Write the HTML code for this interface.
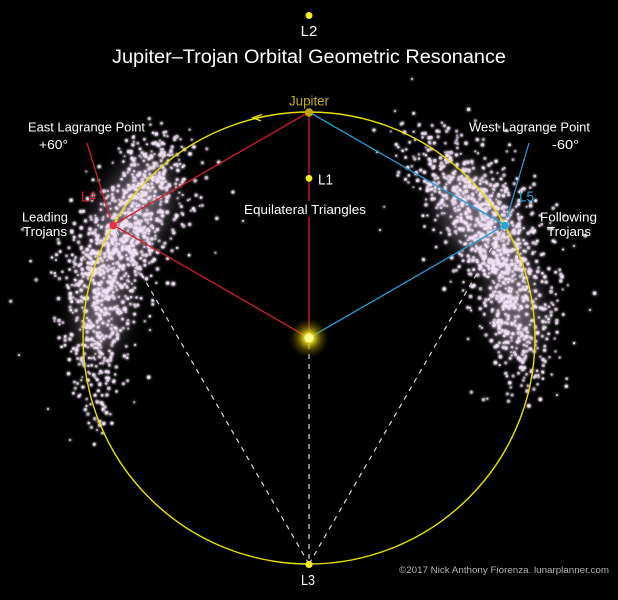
<!DOCTYPE html>
<html><head><meta charset="utf-8"><style>
html,body{margin:0;padding:0;background:#000;}
svg{display:block;}
text{font-family:"Liberation Sans",sans-serif;}
</style></head><body>
<svg id="s" width="618" height="600" viewBox="0 0 618 600" xmlns="http://www.w3.org/2000/svg">
<defs>
<radialGradient id="sun" cx="0.5" cy="0.5" r="0.5">
<stop offset="0" stop-color="#ffffa0" stop-opacity="1"/>
<stop offset="0.25" stop-color="#f0e020" stop-opacity="0.9"/>
<stop offset="0.6" stop-color="#a09000" stop-opacity="0.45"/>
<stop offset="1" stop-color="#605000" stop-opacity="0"/>
</radialGradient>
<filter id="glow" x="-10%" y="-10%" width="120%" height="120%">
<feGaussianBlur in="SourceGraphic" stdDeviation="1.4" result="b"/>
<feMerge><feMergeNode in="b"/><feMergeNode in="b"/><feMergeNode in="SourceGraphic"/></feMerge>
</filter>
<filter id="soft" x="-50%" y="-50%" width="200%" height="200%">
<feGaussianBlur stdDeviation="12"/>
</filter>
</defs>
<rect width="618" height="600" fill="#000"/>

<!-- dashed white lines -->
<g stroke="#dcdcdc" stroke-width="1.2" stroke-dasharray="5,5" fill="none">
<line x1="309" y1="564" x2="113" y2="225"/>
<line x1="309" y1="564" x2="505" y2="225"/>
<line x1="309" y1="344" x2="309" y2="564"/>
</g>

<!-- soft cloud glow -->
<g filter="url(#soft)" opacity="0.45" fill="#e8d4ee">
<ellipse cx="132" cy="215" rx="30" ry="60" transform="rotate(25 132 215)"/>
<ellipse cx="102" cy="305" rx="22" ry="50" transform="rotate(5 102 305)"/>
<ellipse cx="480" cy="220" rx="30" ry="60" transform="rotate(-35 480 220)"/>
<ellipse cx="515" cy="305" rx="22" ry="50" transform="rotate(-8 515 305)"/>
</g>
<g id="clouds" filter="url(#glow)" fill="#f2e2f6"></g>

<!-- red lines -->
<g stroke="#d0202c" stroke-width="1.3" fill="none">
<line x1="309" y1="112" x2="113" y2="225"/>
<line x1="113" y1="225" x2="309" y2="338"/>
<line x1="309" y1="112" x2="309" y2="338"/>
<line x1="87" y1="143" x2="110" y2="218"/>
</g>
<!-- blue lines -->
<g stroke="#2a9ad0" stroke-width="1.3" fill="none">
<line x1="309" y1="112" x2="505" y2="225"/>
<line x1="505" y1="225" x2="309" y2="338"/>
<line x1="529" y1="143" x2="507" y2="218"/>
</g>

<!-- orbit -->
<circle cx="309" cy="338" r="226" fill="none" stroke="#e6e000" stroke-width="1.4"/>
<path d="M262,114.5 L253,117.8 L261,121" fill="none" stroke="#e6e000" stroke-width="1.4"/>

<!-- text bg for Equilateral Triangles -->
<rect x="243" y="201" width="124" height="16" fill="#000"/>

<!-- sun -->
<circle cx="309" cy="338" r="20" fill="url(#sun)"/>
<circle cx="309" cy="338" r="4.5" fill="#ffff90"/>

<!-- points -->
<circle cx="309" cy="15.5" r="3.5" fill="#f4ee20"/>
<circle cx="309" cy="112.5" r="4.2" fill="#c0a400"/>
<circle cx="309" cy="178.3" r="3.4" fill="#f4ee20"/>
<circle cx="113.3" cy="225.5" r="3.8" fill="#e83040"/>
<circle cx="505" cy="225.7" r="3.8" fill="#20a8d8"/>
<circle cx="309" cy="564.5" r="3.6" fill="#f4ee20"/>

<!-- texts -->
<text x="309" y="36" font-size="15" fill="#fff" text-anchor="middle">L2</text>
<text x="112" y="63" font-size="19" fill="#fff" textLength="394" lengthAdjust="spacingAndGlyphs">Jupiter–Trojan Orbital Geometric Resonance</text>
<text x="289" y="105.5" font-size="13.5" fill="#c8ac20" textLength="40" lengthAdjust="spacingAndGlyphs">Jupiter</text>
<text x="28" y="131.5" font-size="13" fill="#fff" textLength="117" lengthAdjust="spacingAndGlyphs">East Lagrange Point</text>
<text x="39" y="149" font-size="13" fill="#fff" textLength="29" lengthAdjust="spacingAndGlyphs">+60°</text>
<text x="81" y="201.5" font-size="14.5" fill="#e0202c" textLength="15" lengthAdjust="spacingAndGlyphs">L4</text>
<text x="22" y="221.5" font-size="13" fill="#fff" textLength="46" lengthAdjust="spacingAndGlyphs">Leading</text>
<text x="23" y="236" font-size="13" fill="#fff" textLength="44" lengthAdjust="spacingAndGlyphs">Trojans</text>
<text x="469" y="131.5" font-size="13" fill="#fff" textLength="121" lengthAdjust="spacingAndGlyphs">West Lagrange Point</text>
<text x="552" y="149" font-size="13" fill="#fff" textLength="27" lengthAdjust="spacingAndGlyphs">-60°</text>
<text x="519" y="201.5" font-size="14.5" fill="#2aa0d8" textLength="15" lengthAdjust="spacingAndGlyphs">L5</text>
<text x="540" y="221.5" font-size="13" fill="#fff" textLength="57" lengthAdjust="spacingAndGlyphs">Following</text>
<text x="547" y="236" font-size="13" fill="#fff" textLength="44" lengthAdjust="spacingAndGlyphs">Trojans</text>
<text x="318" y="184.5" font-size="15" fill="#fff" textLength="15" lengthAdjust="spacingAndGlyphs">L1</text>
<text x="244" y="214" font-size="13" fill="#fff" textLength="122" lengthAdjust="spacingAndGlyphs">Equilateral Triangles</text>
<text x="301" y="585" font-size="15" fill="#fff" textLength="14" lengthAdjust="spacingAndGlyphs">L3</text>
<text x="399" y="573" font-size="9.5" fill="#b4b4b4" textLength="210" lengthAdjust="spacingAndGlyphs">©2017 Nick Anthony Fiorenza. lunarplanner.com</text>
</svg>
<script>
(function(){
var seed=12345;
function rnd(){seed|=0;seed=seed+0x6D2B79F5|0;var t=Math.imul(seed^seed>>>15,1|seed);t=t+Math.imul(t^t>>>7,61|t)^t;return((t^t>>>14)>>>0)/4294967296;}
function gauss(){var u=rnd()||1e-9,v=rnd();return Math.sqrt(-2*Math.log(u))*Math.cos(2*Math.PI*v);}
var g=document.getElementById('clouds');
var parts=[];
function cloud(pts,n){
  var segs=[],tot=0;
  for(var i=0;i<pts.length-1;i++){var w=(pts[i][3]+pts[i+1][3])/2*Math.hypot(pts[i+1][0]-pts[i][0],pts[i+1][1]-pts[i][1]);segs.push(w);tot+=w;}
  for(var k=0;k<n;k++){
    var r=rnd()*tot,j=0;while(j<segs.length-1&&r>segs[j]){r-=segs[j];j++;}
    var a=pts[j],b=pts[j+1],t=rnd();
    var cx=a[0]+(b[0]-a[0])*t,cy=a[1]+(b[1]-a[1])*t,sg=a[2]+(b[2]-a[2])*t;
    var gx=gauss();if(rnd()<0.15)gx*=1.6;
    var x=cx+gx*sg,y=cy+gauss()*11;
    var rad=1.0+rnd()*0.8;
    var op=(0.5+rnd()*0.45).toFixed(2);
    parts.push('<circle cx="'+x.toFixed(1)+'" cy="'+y.toFixed(1)+'" r="'+rad.toFixed(2)+'" opacity="'+op+'"/>');
  }
}
cloud([[170,138,17,0.4],[155,170,21,0.9],[134,208,25,1.3],[117,240,24,1.4],[105,280,21,1.1],[98,320,17,0.75],[96,360,14,0.45],[97,400,13,0.25],[99,430,11,0.1]],1150);
cloud([[440,128,25,0.4],[455,168,26,0.85],[476,205,25,1.2],[496,236,23,1.4],[509,266,21,1.25],[516,300,19,0.95],[520,340,16,0.6],[522,375,14,0.35],[520,402,11,0.15]],1150);
var stray=[[412,79],[395,111],[19,355],[48,409],[377,152],[243,221],[360,205],[56,260],[574,246],[557,395],[70,440],[150,330],[590,310],[380,230],[415,140]];
stray.forEach(function(p){parts.push('<circle cx="'+p[0]+'" cy="'+p[1]+'" r="1.1" opacity="0.7"/>');});
g.innerHTML=parts.join('');
})();
</script>
</body></html>
